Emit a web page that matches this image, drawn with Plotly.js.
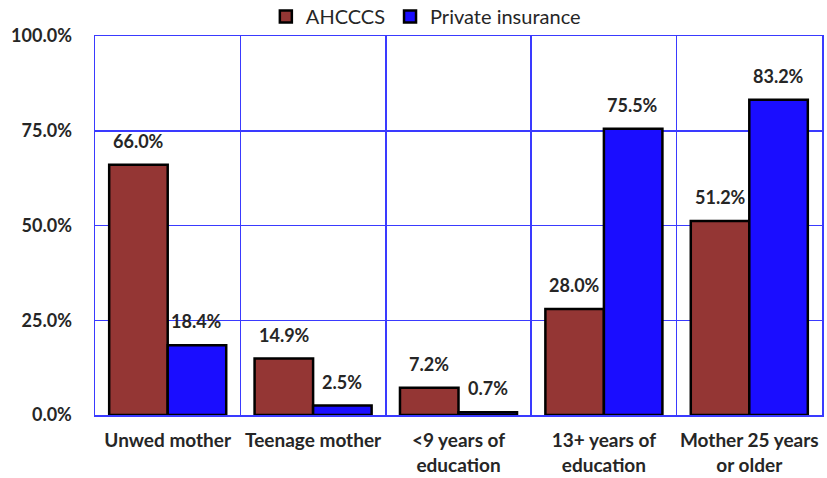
<!DOCTYPE html>
<html><head><meta charset="utf-8">
<script src="https://cdn.plot.ly/plotly-3.0.1.min.js"></script>
<style>html,body{margin:0;padding:0;background:#fff}</style>
</head><body>
<div id="chart" style="width:827px;height:478px"></div>
<script>
const categories = ["Unwed mother", "Teenage mother", "<9 years of<br>education", "13+ years of<br>education", "Mother 25 years<br>or older"];
const ahcccs = [66.0, 14.9, 7.2, 28.0, 51.2];
const privateIns = [18.4, 2.5, 0.7, 75.5, 83.2];
const yTicks = [0, 25, 50, 75, 100];

const idx = categories.map((_, i) => i);
const font = "Lato, Liberation Sans, sans-serif";
const gridColor = "#3a3aff";
const textColor = "#262626";

const traces = [
  {type: "bar", name: "AHCCCS", x: idx, y: ahcccs,
   marker: {color: "#943634", line: {color: "#000", width: 2.5}}},
  {type: "bar", name: "Private insurance", x: idx, y: privateIns,
   marker: {color: "#1a0dff", line: {color: "#000", width: 2.5}}},
  {type: "scatter", x: idx.slice(0, -1).map(i => i + 0.5), y: idx.slice(0,-1).map(() => 0),
   xaxis: "x2", mode: "none", showlegend: false, hoverinfo: "skip"}
];

const offset = 0.2;
const lblFont = {family: font, size: 18, color: textColor};
const annotations = [];
ahcccs.forEach((v, i) => annotations.push({x: i - offset, y: v, text: "<b>" + v.toFixed(1) + "%</b>", showarrow: false, yanchor: "bottom", yshift: 11, font: lblFont}));
privateIns.forEach((v, i) => annotations.push({x: i + offset, y: v, text: "<b>" + v.toFixed(1) + "%</b>", showarrow: false, yanchor: "bottom", yshift: 11, font: lblFont}));

const layout = {
  width: 827, height: 478,
  margin: {l: 95, r: 5, t: 36, b: 63, autoexpand: false},
  paper_bgcolor: "#fff", plot_bgcolor: "#fff",
  barmode: "group", bargap: 0.195, bargroupgap: 0,
  showlegend: true,
  legend: {orientation: "h", x: 0.235, xanchor: "left", y: 1.0, yanchor: "bottom", bgcolor: "rgba(0,0,0,0)",
           font: {family: font, size: 20, color: textColor}, itemwidth: 30, tracegroupgap: 0},
  xaxis: {range: [-0.5, categories.length - 0.5], tickvals: idx, ticktext: categories.map(c => "<b>" + c + "</b>"),
          showgrid: false, zeroline: false, showline: true, linecolor: gridColor, linewidth: 1.5, mirror: true,
          ticks: "", ticklabelstandoff: 8, tickfont: {family: font, size: 19, color: textColor}, fixedrange: true},
  xaxis2: {overlaying: "x", range: [-0.5, categories.length - 0.5], tickvals: idx.slice(0, -1).map(i => i + 0.5),
           showticklabels: false, showgrid: true, gridcolor: gridColor, gridwidth: 1.5, zeroline: false, ticks: ""},
  yaxis: {range: [0, 100], tickvals: yTicks, ticktext: yTicks.map(v => "<b>" + v.toFixed(1) + "%</b>"),
          showgrid: true, gridcolor: gridColor, gridwidth: 1.5, zeroline: false,
          showline: true, linecolor: gridColor, linewidth: 1.5, mirror: true, ticks: "", ticklabelstandoff: 18,
          tickfont: {family: font, size: 18, color: textColor}, fixedrange: true},
  annotations: annotations
};

Plotly.newPlot("chart", traces, layout, {displayModeBar: false, staticPlot: true});
</script>
</body></html>
